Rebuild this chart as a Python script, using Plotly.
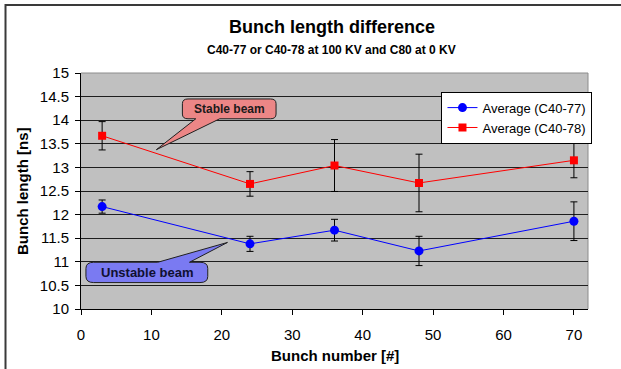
import plotly.graph_objects as go

# ---- data ----
bunch = [3, 24, 36, 48, 70]
avg_c4077 = [12.17, 11.38, 11.67, 11.23, 11.86]
err_c4077 = [0.14, 0.16, 0.23, 0.31, 0.41]
avg_c4078 = [13.67, 12.65, 13.04, 12.67, 13.15]
err_c4078 = [0.30, 0.26, 0.55, 0.61, 0.37]
series_names = ["Average (C40-77)", "Average (C40-78)"]
x_ticks = [0, 10, 20, 30, 40, 50, 60, 70]
y_ticks = [10, 10.5, 11, 11.5, 12, 12.5, 13, 13.5, 14, 14.5, 15]

FONT = "Liberation Sans, Arial, sans-serif"

fig = go.Figure()
fig.add_trace(go.Scatter(
    x=bunch, y=avg_c4077, name=series_names[0], mode="lines+markers",
    line=dict(color="#0000FF", width=1),
    marker=dict(symbol="circle", size=9, color="#0000FF"),
    error_y=dict(type="data", array=err_c4077, color="black", thickness=1, width=3.5),
))
fig.add_trace(go.Scatter(
    x=bunch, y=avg_c4078, name=series_names[1], mode="lines+markers",
    line=dict(color="#FF0000", width=1),
    marker=dict(symbol="square", size=8, color="#FF0000"),
    error_y=dict(type="data", array=err_c4078, color="black", thickness=1, width=3.5),
))


def callout(x0, x1, y0, y1, rx, ry, tail, edge):
    """Rounded rectangle with a pointer tail; tail=(b1, b2, tipx, tipy)."""
    b1, b2, tx, ty = tail
    p = f"M {x0+rx},{y1} "
    if edge == "top":
        p += f"L {b1},{y1} L {tx},{ty} L {b2},{y1} "
    p += f"L {x1-rx},{y1} Q {x1},{y1} {x1},{y1-ry} L {x1},{y0+ry} Q {x1},{y0} {x1-rx},{y0} "
    if edge == "bottom":
        p += f"L {b2},{y0} L {tx},{ty} L {b1},{y0} "
    p += f"L {x0+rx},{y0} Q {x0},{y0} {x0},{y0+ry} L {x0},{y1-ry} Q {x0},{y1} {x0+rx},{y1} Z"
    return p


shapes = [
    # stable beam callout
    dict(type="path", xref="x", yref="y",
         path=callout(14.4, 27.7, 14.03, 14.45, 0.8, 0.1, (16.3, 19.7, 10.7, 13.375), "bottom"),
         fillcolor="#EC8686", line=dict(color="#202020", width=1), layer="above"),
    # unstable beam callout
    dict(type="path", xref="x", yref="y",
         path=callout(0.7, 18.0, 10.56, 10.99, 1.1, 0.13, (10.9, 15.4, 20.8, 11.41), "top"),
         fillcolor="#7A7AF2", line=dict(color="#202020", width=1), layer="above"),
    # plot area top / right border
    dict(type="line", xref="paper", yref="paper", x0=0, x1=1, y0=1, y1=1,
         line=dict(color="#8C8C8C", width=1), layer="below"),
    dict(type="line", xref="paper", yref="paper", x0=1, x1=1, y0=0, y1=1,
         line=dict(color="#8C8C8C", width=1), layer="below"),
    # outer chart frame (left and top visible)
    dict(type="path", xref="paper", yref="paper",
         path="M -0.1489,-0.30 L -0.1489,1.288 L 1.10,1.288",
         line=dict(color="#3A3A3A", width=2)),
]

annotations = [
    dict(text="<b>Bunch length difference</b>", xref="paper", yref="paper",
         x=0.495, y=1.195, xanchor="center", yanchor="middle", showarrow=False,
         font=dict(size=18, color="black", family=FONT)),
    dict(text="<b>C40-77 or C40-78 at 100 KV and C80 at 0 KV</b>", xref="paper", yref="paper",
         x=0.495, y=1.097, xanchor="center", yanchor="middle", showarrow=False,
         font=dict(size=12, color="black", family=FONT)),
    dict(text="<b>Bunch length [ns]</b>", xref="paper", yref="paper", textangle=-90,
         x=-0.1164, y=0.5, xanchor="center", yanchor="middle", showarrow=False,
         font=dict(size=15, color="black", family=FONT)),
    dict(text="<b>Bunch number [#]</b>", xref="paper", yref="paper",
         x=0.501, y=-0.195, xanchor="center", yanchor="middle", showarrow=False,
         font=dict(size=15, color="black", family=FONT)),
    dict(text="<b>Stable beam</b>", xref="x", yref="y", x=21.05, y=14.24,
         xanchor="center", yanchor="middle", showarrow=False,
         font=dict(size=12, color="#1A1A1A", family=FONT)),
    dict(text="<b>Unstable beam</b>", xref="x", yref="y", x=9.35, y=10.775,
         xanchor="center", yanchor="middle", showarrow=False,
         font=dict(size=13, color="#101030", family=FONT)),
]

fig.update_layout(
    width=621, height=369,
    margin=dict(l=81, r=33, t=73, b=60),
    paper_bgcolor="white", plot_bgcolor="#C0C0C0",
    font=dict(family=FONT, color="black"),
    showlegend=True,
    legend=dict(x=0.711, y=0.921, xanchor="left", yanchor="top",
                bgcolor="white", bordercolor="black", borderwidth=1,
                font=dict(size=13, color="black", family=FONT),
                tracegroupgap=0, itemwidth=30),
    shapes=shapes, annotations=annotations,
)
fig.update_xaxes(range=[0, 72], tickvals=x_ticks, showgrid=False, zeroline=False,
                 showline=True, linecolor="black", linewidth=1,
                 ticks="outside", ticklen=5, tickcolor="black", ticklabelstandoff=7,
                 tickfont=dict(size=15, color="black", family=FONT))
fig.update_yaxes(range=[10, 15], tickvals=y_ticks, showgrid=True, gridcolor="#1E1E1E", gridwidth=1,
                 zeroline=False, showline=True, linecolor="black", linewidth=1,
                 ticks="outside", ticklen=5, tickcolor="black", ticklabelstandoff=3,
                 tickfont=dict(size=15, color="black", family=FONT))

fig.write_html("out.html")
